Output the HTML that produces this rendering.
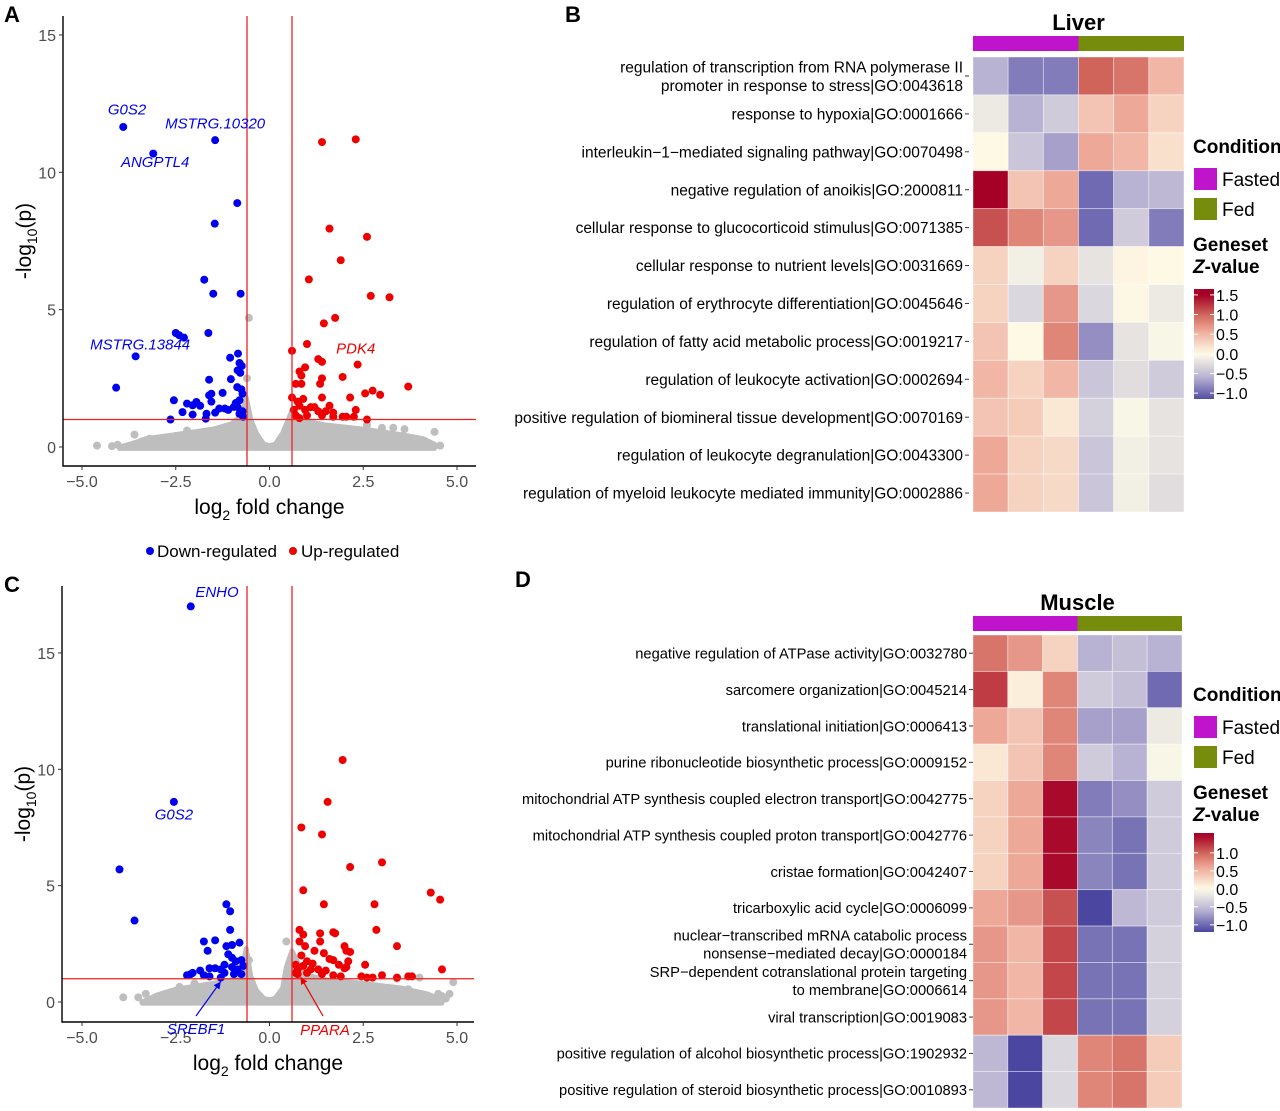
<!DOCTYPE html>
<html><head><meta charset="utf-8"><style>
html,body{margin:0;padding:0;background:#fff}
svg{display:block;font-family:"Liberation Sans",Arial,sans-serif}
</style></head><body>
<svg id="fig" width="1280" height="1111" viewBox="0 0 1280 1111" xmlns="http://www.w3.org/2000/svg"></svg>
<script>
// ---------- DATA ----------
// Panel A (liver volcano)
const aBlueX=[-3.9,-3.1,-1.45,-0.86,-1.46,-1.74,-1.5,-0.77,-2.5,-2.41,-2.28,-1.63,-3.57,-4.09,-0.84,-1.05,-0.8,-0.74,-0.85,-0.78,-1.61,-1.03,-0.86,-0.75,-0.72,-0.8,-1.61,-1.55,-1.25,-0.9,-0.85,-2.55,-2.2,-2.05,-1.95,-1.85,-2.05,-2.32,-1.68,-1.34,-1.19,-0.95,-0.8,-2.64,-1.7,-1.55,-0.72,-1.45,-1.1,-0.7];
const aBlueY=[11.65,10.68,11.17,8.88,8.13,6.09,5.58,5.58,4.15,4.07,3.98,4.15,3.3,2.16,3.4,3.25,3.06,2.95,2.79,2.7,2.45,2.47,2.18,2.1,1.94,1.7,1.88,1.65,1.97,1.6,1.45,1.7,1.58,1.52,1.64,1.5,1.18,1.27,1.21,1.4,1.4,1.46,1.21,1.0,1.03,1.94,1.3,1.25,1.35,1.1];
const aRedX=[1.4,2.3,1.6,2.6,1.9,1.05,2.7,3.2,1.75,1.45,1.0,0.6,2.35,1.3,1.4,0.95,0.8,0.85,1.95,1.4,0.7,0.85,1.35,2.55,2.75,2.95,3.7,2.15,0.6,0.75,0.9,1.4,0.8,1.1,1.2,1.6,0.65,0.95,1.3,1.5,1.7,2.3,0.7,1.0,1.4,1.7,2.05,2.25,2.6,1.95,0.8];
const aRedY=[11.1,11.2,7.95,7.65,6.8,6.1,5.5,5.45,4.7,4.5,3.75,3.5,3.0,3.2,3.1,2.9,2.75,2.6,2.55,2.5,2.3,2.3,2.3,1.95,2.05,1.9,2.2,1.8,1.8,1.65,1.75,1.8,1.5,1.45,1.45,1.5,1.35,1.35,1.3,1.3,1.25,1.35,1.15,1.15,1.15,1.1,1.1,1.1,1.0,1.1,1.05];
const aGrayX=[-4.6,-4.2,-4.05,-3.6,-3.6,-3.2,-2.5,-0.55,-0.6,3.3,3.6,4.4,4.55,2.6,3.0,-2.2,-3.4,4.2,-2.9,-0.65];
const aGrayY=[0.05,0.03,0.08,0.45,0.1,0.3,0.4,4.7,2.5,0.7,0.65,0.55,0.05,0.8,0.7,0.6,0.2,0.1,0.3,1.3];
const aCloudX=[-4.0,-3.6,-3.3,-2.5,-1.5,-1.0,-0.72,-0.62,-0.5,-0.35,-0.15,0,0.15,0.35,0.5,0.62,0.8,1.5,2.5,3.5,4.1,4.4];
const aCloudY=[0.0,0.15,0.3,0.45,0.65,0.85,1.2,1.8,1.0,0.5,0.1,0.05,0.1,0.5,1.0,1.4,1.0,0.8,0.65,0.45,0.3,0.1];
const aLabels=["G0S2","MSTRG.10320","ANGPTL4","MSTRG.13844","PDK4"];
const aLabelX=[-3.8,-1.45,-3.05,-3.45,2.3];
const aLabelY=[12.1,11.6,10.2,3.55,3.4];
const aLabelCol=["blue","blue","blue","blue","red"];
// Panel C (muscle volcano)
const cBlueX=[-2.1,-2.55,-4.0,-3.6,-1.15,-1.05,-1.05,-1.75,-1.45,-1.65,-1.15,-1.0,-0.8,-1.1,-1.0,-0.9,-0.75,-0.7,-1.2,-1.0,-0.85,-1.6,-1.45,-1.3,-1.85,-2.05,-2.1,-1.75,-1.2,-1.6,-0.95,-0.75,-1.3,-2.2];
const cBlueY=[17.0,8.6,5.7,3.5,4.2,3.9,3.1,2.6,2.65,2.2,2.4,2.45,2.55,2.05,1.9,1.75,1.8,1.55,1.6,1.5,1.4,1.45,1.45,1.4,1.35,1.25,1.2,1.15,1.25,1.1,1.2,1.2,1.05,1.15];
const cRedX=[1.95,1.55,0.85,1.4,2.15,3.0,0.9,1.45,2.8,4.3,4.55,2.85,0.8,0.9,1.35,1.7,1.75,0.8,1.35,0.95,2.0,3.4,2.05,2.15,1.2,1.45,0.85,1.6,1.7,2.1,1.85,2.55,1.0,1.15,0.7,0.9,2.05,2.0,0.75,1.1,1.3,1.5,4.6,0.7,1.0,1.4,1.7,2.45,2.75,3.0,3.4,3.7,3.8,2.6,1.9,0.75];
const cRedY=[10.4,8.6,7.5,7.2,5.8,6.0,4.8,4.2,4.2,4.7,4.4,3.1,3.1,2.9,2.95,3.0,2.95,2.6,2.6,2.4,2.4,2.4,2.2,2.15,2.2,2.1,2.0,1.85,1.8,1.75,1.6,1.6,1.75,1.65,1.6,1.55,1.5,1.45,1.4,1.4,1.4,1.35,1.4,1.25,1.25,1.2,1.15,1.1,1.05,1.15,1.05,1.1,1.1,1.05,1.1,1.2];
const cGrayX=[-3.9,-2.4,-2.0,-0.55,-0.6,0.45,3.4,3.7,4.6,4.9,4.5,4.3,4.7,3.9,3.4,4.0,-2.5,-3.5,-3.3,4.8];
const cGrayY=[0.2,0.65,0.8,1.8,1.3,2.6,0.4,0.55,0.25,0.85,0.35,0.1,0.15,0.2,1.0,1.05,0.3,0.2,0.35,0.35];
const cCloudX=[-3.4,-3.0,-2.5,-1.5,-1.0,-0.72,-0.62,-0.5,-0.35,-0.15,0,0.15,0.35,0.45,0.6,0.9,1.5,2.5,3.5,4.2,4.6];
const cCloudY=[0.0,0.3,0.55,0.8,0.95,1.5,2.3,1.1,0.5,0.15,0.1,0.15,0.6,1.5,2.2,1.2,0.95,0.8,0.6,0.35,0.1];
const cLabels=["ENHO","G0S2"];
const cLabelX=[-1.4,-2.55];
const cLabelY=[17.4,7.85];
// Heatmaps
const liverRows=[["regulation of transcription from RNA polymerase II","promoter in response to stress|GO:0043618"],["response to hypoxia|GO:0001666"],["interleukin\u22121\u2212mediated signaling pathway|GO:0070498"],["negative regulation of anoikis|GO:2000811"],["cellular response to glucocorticoid stimulus|GO:0071385"],["cellular response to nutrient levels|GO:0031669"],["regulation of erythrocyte differentiation|GO:0045646"],["regulation of fatty acid metabolic process|GO:0019217"],["regulation of leukocyte activation|GO:0002694"],["positive regulation of biomineral tissue development|GO:0070169"],["regulation of leukocyte degranulation|GO:0043300"],["regulation of myeloid leukocyte mediated immunity|GO:0002886"]];
const liverZ=[[-0.6,-0.9,-0.9,1.0,0.9,0.5],[-0.15,-0.6,-0.4,0.4,0.6,0.3],[0.02,-0.45,-0.7,0.6,0.5,0.2],[1.5,0.4,0.6,-1.0,-0.6,-0.55],[1.1,0.8,0.7,-1.0,-0.4,-0.9],[0.3,-0.1,0.3,-0.2,0.05,0.02],[0.3,-0.3,0.7,-0.3,0.03,-0.15],[0.4,0.02,0.8,-0.8,-0.2,-0.05],[0.5,0.3,0.5,-0.45,-0.25,-0.4],[0.4,0.35,0.15,-0.35,-0.05,-0.2],[0.6,0.3,0.25,-0.45,-0.1,-0.2],[0.6,0.3,0.25,-0.45,-0.1,-0.25]];
const liverTicks=[1.5,1.0,0.5,0.0,-0.5,-1.0];
const muscleRows=[["negative regulation of ATPase activity|GO:0032780"],["sarcomere organization|GO:0045214"],["translational initiation|GO:0006413"],["purine ribonucleotide biosynthetic process|GO:0009152"],["mitochondrial ATP synthesis coupled electron transport|GO:0042775"],["mitochondrial ATP synthesis coupled proton transport|GO:0042776"],["cristae formation|GO:0042407"],["tricarboxylic acid cycle|GO:0006099"],["nuclear\u2212transcribed mRNA catabolic process","nonsense\u2212mediated decay|GO:0000184"],["SRP\u2212dependent cotranslational protein targeting","to membrane|GO:0006614"],["viral transcription|GO:0019083"],["positive regulation of alcohol biosynthetic process|GO:1902932"],["positive regulation of steroid biosynthetic process|GO:0010893"]];
const muscleZ=[[0.9,0.7,0.3,-0.6,-0.5,-0.6],[1.2,0.1,0.8,-0.4,-0.5,-1.0],[0.6,0.4,0.8,-0.7,-0.7,-0.15],[0.15,0.4,0.8,-0.4,-0.6,-0.05],[0.3,0.6,1.45,-0.9,-0.8,-0.4],[0.3,0.6,1.45,-0.85,-0.95,-0.4],[0.3,0.6,1.45,-0.85,-0.95,-0.4],[0.6,0.7,1.1,-1.2,-0.55,-0.4],[0.7,0.5,1.15,-0.95,-0.95,-0.35],[0.7,0.5,1.15,-0.95,-0.95,-0.35],[0.7,0.5,1.15,-0.95,-0.95,-0.35],[-0.55,-1.2,-0.3,0.8,0.9,0.35],[-0.55,-1.2,-0.3,0.8,0.9,0.35]];
const muscleTicks=[1.0,0.5,0.0,-0.5,-1.0];
const xTicks=[-5.0,-2.5,0.0,2.5,5.0];
const aYTicks=[0,5,10,15];
const cYTicks=[0,5,10,15];

// ---------- HELPERS ----------
const NS="http://www.w3.org/2000/svg";
const svg=document.getElementById('fig');
function mk(tag,attrs,parent,text){const e=document.createElementNS(NS,tag);for(const k in attrs)e.setAttribute(k,attrs[k]);if(text!==undefined)e.textContent=text;(parent||svg).appendChild(e);return e;}
const stops=[[-1.2,[75,70,160]],[-0.6,[184,178,211]],[0,[254,252,232]],[0.6,[238,168,152]],[1.0,[208,100,90]],[1.5,[165,0,38]]];
function zcol(v){if(v<=stops[0][0])return 'rgb('+stops[0][1]+')';for(let i=1;i<stops.length;i++){if(v<=stops[i][0]){const a=stops[i-1],b=stops[i],t=(v-a[0])/(b[0]-a[0]);return 'rgb('+a[1].map((c,j)=>Math.round(c+(b[1][j]-c)*t)).join(',')+')';}}return 'rgb('+stops[stops.length-1][1]+')';}

function volcano(o){
  const g=mk('g',{});
  
  
  const X=v=>o.x0+v*o.sx, Y=v=>o.y0-v*o.sy;
  let d='M'+X(o.cloudX[0])+','+Y(-0.05);
  o.cloudX.forEach((x,i)=>{d+=' L'+X(x)+','+Y(o.cloudY[i]);});
  d+=' L'+X(o.cloudX[o.cloudX.length-1])+','+Y(-0.05)+' Z';
  const cl=mk('path',{d:d,fill:'#bebebe',stroke:'#bebebe','stroke-width':5,'stroke-linejoin':'round'},g);
  
  
  o.grayX.forEach((x,i)=>{const c=mk('circle',{cx:X(x),cy:Y(o.grayY[i]),r:4,fill:'#bebebe'},g);
    
    });
  o.blueX.forEach((x,i)=>{const c=mk('circle',{cx:X(x),cy:Y(o.blueY[i]),r:4,fill:'#0000ee'},g);
    
    });
  o.redX.forEach((x,i)=>{const c=mk('circle',{cx:X(x),cy:Y(o.redY[i]),r:4,fill:'#ee0000'},g);
    
    });
  mk('line',{x1:X(-0.6),x2:X(-0.6),y1:o.top,y2:o.bottom,stroke:'#ee2222','stroke-width':1.3},g);
  mk('line',{x1:X(0.6),x2:X(0.6),y1:o.top,y2:o.bottom,stroke:'#ee2222','stroke-width':1.3},g);
  mk('line',{x1:o.left,x2:o.right,y1:Y(1),y2:Y(1),stroke:'#ee2222','stroke-width':1.3},g);
  const ax=mk('path',{d:'M'+o.left+','+o.top+' V'+o.bottom+' H'+o.right,fill:'none',stroke:'#000','stroke-width':1.4},g);
  
  
  xTicks.forEach(t=>{mk('line',{x1:X(t),x2:X(t),y1:o.bottom,y2:o.bottom+4,stroke:'#333'},g);
    const tl=mk('text',{x:X(t),y:o.bottom+21,'text-anchor':'middle','font-size':16,fill:'#4d4d4d'},g,t.toFixed(1).replace('-','\u2212'));
    
    });
  o.yTicks.forEach(t=>{mk('line',{x1:o.left-4,x2:o.left,y1:Y(t),y2:Y(t),stroke:'#333'},g);
    const tl=mk('text',{x:o.left-7,y:Y(t)+6,'text-anchor':'end','font-size':16,fill:'#4d4d4d'},g,String(t));
    
    });
  const xt=mk('text',{x:(o.left+o.right)/2,y:o.bottom+48,'text-anchor':'middle','font-size':21},g);
  
  
  xt.innerHTML='log<tspan font-size="14" dy="6">2</tspan><tspan dy="-6"> fold change</tspan>';
  const yt=mk('text',{transform:'translate('+(o.left-32)+','+((o.top+o.bottom)/2)+') rotate(-90)','text-anchor':'middle','font-size':21},g);
  
  
  yt.innerHTML='-log<tspan font-size="14" dy="6">10</tspan><tspan dy="-6">(p)</tspan>';
  o.labels.forEach((s,i)=>{const t=mk('text',{x:X(o.labelX[i]),y:Y(o.labelY[i]),'text-anchor':'middle','font-size':15,'font-style':'italic',fill:o.labelCol[i]==='red'?'#ee0000':'#0000ee'},g,s);
    
    });
  return {X,Y,g};
}

mk('text',{x:4,y:22,'font-size':22,'font-weight':'bold'},svg,'A');
volcano({name:'volcano-liver',x0:269.5,sx:37.5,y0:447,sy:27.47,left:63,right:476,top:16,bottom:466,
  blueX:aBlueX,blueY:aBlueY,redX:aRedX,redY:aRedY,grayX:aGrayX,grayY:aGrayY,cloudX:aCloudX,cloudY:aCloudY,
  yTicks:aYTicks,labels:aLabels,labelX:aLabelX,labelY:aLabelY,labelCol:aLabelCol});
const lg=mk('g',{});


mk('circle',{cx:150,cy:551,r:4,fill:'#0000ee'},lg);
mk('text',{x:157,y:557,'font-size':17},lg,'Down-regulated');
mk('circle',{cx:293,cy:551,r:4,fill:'#ee0000'},lg);
mk('text',{x:301,y:557,'font-size':17},lg,'Up-regulated');

mk('text',{x:4,y:592,'font-size':22,'font-weight':'bold'},svg,'C');
const vc=volcano({name:'volcano-muscle',x0:269.5,sx:37.5,y0:1002,sy:23.27,left:62,right:474,top:586,bottom:1022,
  blueX:cBlueX,blueY:cBlueY,redX:cRedX,redY:cRedY,grayX:cGrayX,grayY:cGrayY,cloudX:cCloudX,cloudY:cCloudY,
  yTicks:cYTicks,labels:cLabels,labelX:cLabelX,labelY:cLabelY,labelCol:['blue','blue']});
mk('defs',{},svg).innerHTML='<marker id="ab" markerWidth="8" markerHeight="8" refX="6" refY="3" orient="auto"><path d="M0,0 L6,3 L0,6 Z" fill="#0000ee"/></marker><marker id="ar" markerWidth="8" markerHeight="8" refX="6" refY="3" orient="auto"><path d="M0,0 L6,3 L0,6 Z" fill="#ee0000"/></marker>';
mk('line',{x1:196,y1:1016,x2:vc.X(-1.3),y2:vc.Y(1.05)+4,stroke:'#0000ee','stroke-width':1.2,'marker-end':'url(#ab)'},vc.g);
mk('line',{x1:323,y1:1016,x2:vc.X(0.75)+3,y2:vc.Y(1.2)+3,stroke:'#ee0000','stroke-width':1.2,'marker-end':'url(#ar)'},vc.g);
const sl=mk('text',{x:196,y:1034,'text-anchor':'middle','font-size':15,'font-style':'italic',fill:'#0000ee'},vc.g,'SREBF1');


const pl=mk('text',{x:325,y:1035,'text-anchor':'middle','font-size':15,'font-style':'italic',fill:'#ee0000'},vc.g,'PPARA');



function heatmap(o){
  const g=mk('g',{});
  
  
  const cw=(o.x1-o.x0)/6, rh=(o.y1-o.y0)/o.z.length;
  const tt=mk('text',{x:(o.x0+o.x1)/2,y:o.titleY,'text-anchor':'middle','font-size':22,'font-weight':'bold'},g,o.title);
  
  
  mk('rect',{x:o.x0,y:o.barY,width:cw*3,height:15,fill:'#bf14cc'},g);
  mk('rect',{x:o.x0+cw*3,y:o.barY,width:cw*3,height:15,fill:'#768c0d'},g);
  o.z.forEach((row,r)=>{row.forEach((v,c)=>{const e=mk('rect',{x:o.x0+c*cw,y:o.y0+r*rh,width:cw,height:rh,fill:zcol(v),stroke:'#ffffff','stroke-opacity':0.5,'stroke-width':0.8},g);
      
      });
    const cy=o.y0+(r+0.5)*rh, lines=o.rows[r];
    lines.forEach((s,k)=>{const t=mk('text',{x:o.labX,y:cy+o.fs*0.36+(k-(lines.length-1)/2)*(o.fs+3),'text-anchor':'end','font-size':o.fs},g,s);
      
      });
    mk('line',{x1:o.labX+2,x2:o.labX+6,y1:cy,y2:cy,stroke:'#333'},g);
  });
  const L=o.leg;
  mk('text',{x:L.x,y:L.condY,'font-size':19,'font-weight':'bold'},g,'Condition');
  mk('rect',{x:L.x+1,y:L.condY+15,width:23,height:22,fill:'#bf14cc'},g);
  mk('text',{x:L.x+29,y:L.condY+33,'font-size':19},g,'Fasted');
  mk('rect',{x:L.x+1,y:L.condY+45,width:23,height:22,fill:'#768c0d'},g);
  mk('text',{x:L.x+29,y:L.condY+63,'font-size':19},g,'Fed');
  mk('text',{x:L.x,y:L.condY+98,'font-size':19,'font-weight':'bold'},g,'Geneset');
  mk('text',{x:L.x,y:L.condY+120,'font-size':19,'font-weight':'bold'},g).innerHTML='<tspan font-style="italic">Z</tspan>-value';
  const defs=mk('defs',{},g);
  const lgd=mk('linearGradient',{id:o.name+'-grad',x1:0,y1:0,x2:0,y2:1},defs);
  for(let i=0;i<=20;i++){const v=L.vTop+(L.vBot-L.vTop)*i/20;mk('stop',{offset:(i/20),'stop-color':zcol(v)},lgd);}
  const cb=mk('rect',{x:L.x+1,y:L.barTop,width:20,height:L.barBot-L.barTop,fill:'url(#'+o.name+'-grad)'},g);
  
  
  const ppu=(L.barBot-L.barTop)/(L.vTop-L.vBot);
  o.ticks.forEach(t=>{const y=L.barTop+(L.vTop-t)*ppu;
    mk('line',{x1:L.x+1,x2:L.x+5,y1:y,y2:y,stroke:'#fff'},g);mk('line',{x1:L.x+17,x2:L.x+21,y1:y,y2:y,stroke:'#fff'},g);
    const tl=mk('text',{x:L.x+23,y:y+6,'font-size':16},g,t.toFixed(1).replace('-','\u2212'));
    
    });
}
mk('text',{x:565,y:22,'font-size':22,'font-weight':'bold'},svg,'B');
heatmap({name:'heatmap-liver',title:'Liver',titleY:30,barY:36,x0:973,x1:1184,y0:57,y1:512,z:liverZ,rows:liverRows,labX:963,fs:15.5,ticks:liverTicks,
  leg:{x:1193,condY:153,barTop:289,barBot:399,vTop:1.65,vBot:-1.15}});
mk('text',{x:515,y:587,'font-size':22,'font-weight':'bold'},svg,'D');
heatmap({name:'heatmap-muscle',title:'Muscle',titleY:610,barY:616,x0:973,x1:1182,y0:635,y1:1108,z:muscleZ,rows:muscleRows,labX:967,fs:14.7,ticks:muscleTicks,
  leg:{x:1193,condY:701,barTop:833,barBot:932,vTop:1.55,vBot:-1.2}});
</script>
</body></html>
